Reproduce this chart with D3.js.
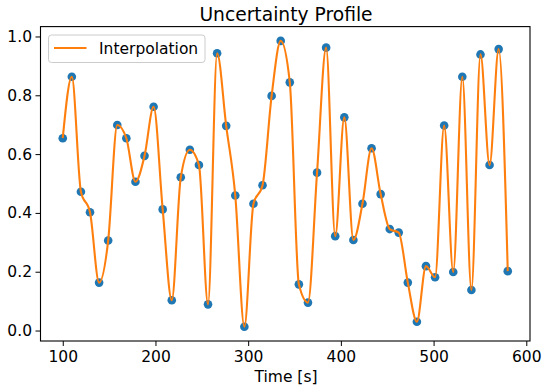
<!DOCTYPE html>
<html>
<head>
<meta charset="utf-8">
<script src="https://cdn.jsdelivr.net/npm/d3@7"></script>
<style>
  body { margin: 0; background: #fff; }
  svg { font-family: "DejaVu Sans", sans-serif; }
</style>
</head>
<body>
<svg id="chart" width="550" height="392"></svg>
<script>
// sample times (s)
const times = [100, 109.8, 119.6, 129.4, 139.2, 149.0, 158.8, 168.6, 178.4, 188.2,
  198.0, 207.8, 217.6, 227.3, 237.1, 246.9, 256.7, 266.5, 276.3, 286.1,
  295.9, 305.7, 315.5, 325.3, 335.1, 344.9, 354.7, 364.5, 374.3, 384.1,
  393.9, 403.7, 413.5, 423.3, 433.1, 442.9, 452.7, 462.4, 472.2, 482.0,
  491.8, 501.6, 511.4, 521.2, 531.0, 540.8, 550.6, 560.4, 570.2, 580.0];
// uncertainty at each sample
const uncertainty = [0.654, 0.863, 0.472, 0.402, 0.163, 0.306, 0.699, 0.654, 0.506, 0.594,
  0.761, 0.412, 0.103, 0.521, 0.615, 0.563, 0.089, 0.943, 0.696, 0.459,
  0.013, 0.431, 0.494, 0.798, 0.985, 0.844, 0.157, 0.095, 0.537, 0.962,
  0.321, 0.725, 0.308, 0.431, 0.620, 0.464, 0.345, 0.333, 0.163, 0.030,
  0.219, 0.181, 0.697, 0.199, 0.863, 0.138, 0.939, 0.563, 0.957, 0.202];
const xTicks = [100, 200, 300, 400, 500, 600];
const yTicks = [0.0, 0.2, 0.4, 0.6, 0.8, 1.0];

const m = { left: 40.5, right: 530, top: 26.6, bottom: 341 };
const fs = "15.5px";

const svg = d3.select("#chart");
const x = d3.scaleLinear().domain([76, 604]).range([m.left, m.right]);
const y = d3.scaleLinear().domain([-0.0356, 1.0336]).range([m.bottom, m.top]);

const pts = times.map((t, i) => [t, uncertainty[i]]);

// points
svg.append("g")
  .selectAll("circle")
  .data(pts)
  .enter()
  .append("circle")
  .attr("cx", d => x(d[0]))
  .attr("cy", d => y(d[1]))
  .attr("r", 4.3)
  .attr("fill", "#1f77b4");

// shape-preserving (pchip-like) interpolation through the samples
const line = d3.line()
  .x(d => x(d[0]))
  .y(d => y(d[1]))
  .curve(d3.curveMonotoneX);

svg.append("path")
  .datum(pts)
  .attr("d", line)
  .attr("fill", "none")
  .attr("stroke", "#ff7f0e")
  .attr("stroke-width", 2.1);

// axes
const xAxis = svg.append("g")
  .attr("transform", "translate(0," + m.bottom + ")")
  .call(d3.axisBottom(x).tickValues(xTicks).tickSize(5).tickPadding(4.5).tickFormat(d3.format("d")));
const yAxis = svg.append("g")
  .attr("transform", "translate(" + m.left + ",0)")
  .call(d3.axisLeft(y).tickValues(yTicks).tickSize(5).tickPadding(3.5).tickFormat(d3.format(".1f")));

[xAxis, yAxis].forEach(g => {
  g.select(".domain").remove();
  g.selectAll("line").attr("stroke", "#000").attr("stroke-width", 1);
  g.selectAll("text").attr("fill", "#000").style("font-size", fs).style("font-family", "DejaVu Sans");
});

// frame
svg.append("rect")
  .attr("x", m.left).attr("y", m.top)
  .attr("width", m.right - m.left).attr("height", m.bottom - m.top)
  .attr("fill", "none").attr("stroke", "#000").attr("stroke-width", 1.1);

// title and label
svg.append("text")
  .attr("x", 286).attr("y", 20.7)
  .attr("text-anchor", "middle")
  .style("font-size", "18.7px")
  .text("Uncertainty Profile");

svg.append("text")
  .attr("x", 286).attr("y", 381.7)
  .attr("text-anchor", "middle")
  .style("font-size", fs)
  .text("Time [s]");

// legend
const lg = svg.append("g");
lg.append("rect")
  .attr("x", 48.5).attr("y", 35).attr("width", 156.5).attr("height", 27.5)
  .attr("rx", 3)
  .attr("fill", "#fff").attr("fill-opacity", 0.8)
  .attr("stroke", "#ccc").attr("stroke-width", 1);
lg.append("line")
  .attr("x1", 54).attr("x2", 86.5).attr("y1", 48).attr("y2", 48)
  .attr("stroke", "#ff7f0e").attr("stroke-width", 2.1);
lg.append("text")
  .attr("x", 99).attr("y", 53.8)
  .style("font-size", fs)
  .text("Interpolation");
</script>
</body>
</html>
